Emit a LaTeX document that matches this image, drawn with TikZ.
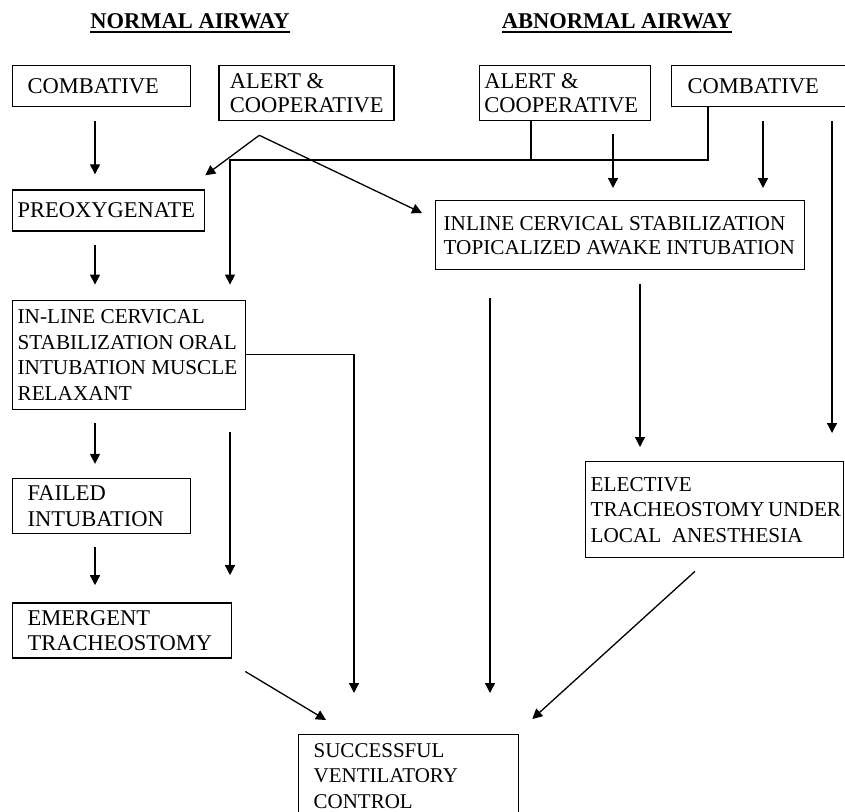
\documentclass[tikz,border=0pt]{standalone}
\usepackage{fontspec}
\setmainfont{Liberation Serif}
\usetikzlibrary{arrows.meta,positioning,calc}
\hyphenpenalty=10000
\exhyphenpenalty=10000

\begin{document}
\begin{tikzpicture}[
  x=1pt, y=1pt,
  txtbig/.style={font=\fontsize{22.5}{25}\selectfont},
  txtsm/.style={font=\fontsize{21.2}{25.5}\selectfont},
  box/.style={draw, line width=1.3pt, align=flush left, inner xsep=5pt, inner ysep=0pt},
  arr/.style={-{Triangle[width=10pt,length=10pt]}, line width=1.3pt},
  hd/.style={font=\fontsize{22.5}{25}\selectfont\bfseries, inner sep=0pt, anchor=base}
]
\useasboundingbox (0,0) rectangle (845,-811);

\node[hd] (ntitle) at (190,-28) {NORMAL AIRWAY};
\node[hd] (atitle) at (617,-28) {ABNORMAL AIRWAY};
\draw[line width=1.3pt] ([yshift=-4pt]ntitle.base west) -- ([yshift=-4pt]ntitle.base east);
\draw[line width=1.3pt] ([yshift=-4pt]atitle.base west) -- ([yshift=-4pt]atitle.base east);

\node[box, txtbig, inner xsep=15pt, text width=148pt, minimum height=41pt, anchor=north west] (comb1) at (12,-65) {COMBATIVE};
\node[box, txtbig, inner xsep=11pt, text width=153pt, minimum height=55pt, font=\fontsize{22.5}{23.5}\selectfont, right=27pt of comb1.north east, anchor=north west] (alert1) {ALERT \&\\COOPERATIVE};
\node[box, txtbig, text width=182pt, minimum height=41pt, below=82pt of comb1.south west, anchor=north west] (preox) {PREOXYGENATE};
\node[box, txtsm, text width=223pt, minimum height=109pt, below=68pt of preox.south west, anchor=north west] (inline1) {IN-LINE CERVICAL\\STABILIZATION~ORAL\\INTUBATION~MUSCLE\\RELAXANT};
\node[box, txtbig, inner xsep=15pt, text width=148pt, minimum height=55pt, font=\fontsize{22.5}{26}\selectfont, below=68pt of inline1.south west, anchor=north west] (failed) {FAILED\\INTUBATION};
\node[box, txtbig, inner xsep=15pt, text width=189pt, minimum height=55pt, below=68pt of failed.south west, anchor=north west] (emergent) {EMERGENT\\TRACHEOSTOMY};

\node[box, txtbig, text width=161pt, minimum height=55pt, font=\fontsize{22.5}{24}\selectfont, right=84pt of alert1.north east, anchor=north west] (alert2) {ALERT \&\\COOPERATIVE};
\node[box, txtbig, inner xsep=16pt, text width=144pt, minimum height=41pt, right=20pt of alert2.north east, anchor=north west] (comb2) {COMBATIVE};
\node[box, txtsm, inner xsep=8pt, text width=353pt, minimum height=69pt, font=\fontsize{21.2}{24}\selectfont, anchor=north west] (inline2) at (435,-200) {INLINE~CERVICAL~STABILIZATION\\TOPICALIZED~AWAKE~INTUBATION};
\node[box, txtsm, text width=248pt, minimum height=96pt, anchor=north west] (elective) at (585,-461) {ELECTIVE\\TRACHEOSTOMY~UNDER\\LOCAL~~ANESTHESIA};
\node[box, txtsm, inner xsep=15pt, text width=190pt, minimum height=82pt, font=\fontsize{21}{25.5}\selectfont, anchor=north west] (success) at (298,-734) {SUCCESSFUL\\VENTILATORY\\CONTROL};

\coordinate (lc) at (95,0);
\coordinate (bus) at (230,-160);
\coordinate (ac) at (531,0);
\coordinate (bc) at (708,0);
\coordinate (dc) at (613,0);
\coordinate (ec) at (763,0);
\coordinate (fc) at (832,0);
\coordinate (gc) at (490,0);
\coordinate (hc) at (640,0);
\coordinate (ic) at (354,0);
\coordinate (fork) at ([shift={(41,-14)}]alert1.south west);

\draw[arr, shorten <=14pt, shorten >=15pt] (comb1.south -| lc) -- (preox.north -| lc);
\draw[arr, shorten <=13pt, shorten >=15pt] (preox.south -| lc) -- (inline1.north -| lc);
\draw[arr, shorten <=13pt, shorten >=14pt] (inline1.south -| lc) -- (failed.north -| lc);
\draw[arr, shorten <=13pt, shorten >=17pt] (failed.south -| lc) -- (emergent.north -| lc);
\draw[arr] (fork) -- ([yshift=14pt]preox.north east);
\draw[arr] (fork) -- ([shift={(-13,-13)}]inline2.north west);

\draw[line width=1.3pt] (alert2.south -| ac) -- (ac |- bus);
\draw[arr, shorten >=15pt] (comb2.south -| bc) |- (bus) -- (inline1.north -| bus);
\draw[arr, shorten <=13pt, shorten >=12pt] (alert2.south -| dc) -- (inline2.north -| dc);
\draw[arr, shorten <=14pt, shorten >=12pt] (comb2.south -| ec) -- (inline2.north -| ec);
\draw[arr, shorten <=14pt, shorten >=28pt] (comb2.south -| fc) -- (elective.north -| fc);
\draw[arr, shorten <=28pt, shorten >=41pt] (inline2.south -| gc) -- (success.north -| gc);
\draw[arr, shorten <=14pt, shorten >=14pt] (inline2.south -| hc) -- (elective.north -| hc);

\draw[arr, shorten >=41pt] (inline1.east) -| (success.north -| ic);
\draw[arr, shorten <=22pt, shorten >=27pt] (inline1.south -| bus) -- (emergent.north -| bus);
\draw[arr] ([shift={(13,-13)}]emergent.south east) -- ([shift={(28,14)}]success.north west);
\draw[arr] ([shift={(110,-13)}]elective.south west) -- ([shift={(13,15)}]success.north east);
\end{tikzpicture}
\end{document}
